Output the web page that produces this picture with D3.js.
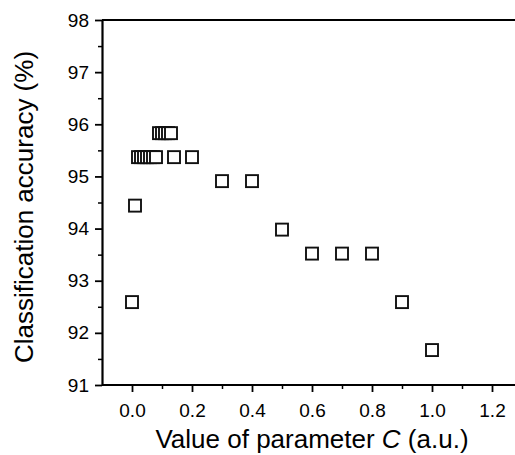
<!DOCTYPE html>
<html>
<head>
<meta charset="utf-8">
<script src="https://cdn.jsdelivr.net/npm/d3@7"></script>
<style>
  body { margin: 0; background: #fff; }
  svg { display: block; font-family: "Liberation Sans", Arial, sans-serif; }
</style>
</head>
<body>
<div id="chart"></div>
<script>
// values of parameter C and matching classification accuracy (%)
const cValues = [0.0, 0.01, 0.02, 0.03, 0.04, 0.05, 0.06, 0.07, 0.08,
                 0.09, 0.10, 0.11, 0.12, 0.13, 0.14, 0.2, 0.3, 0.4,
                 0.5, 0.6, 0.7, 0.8, 0.9, 1.0];
const accuracy = [92.59, 94.44, 95.37, 95.37, 95.37, 95.37, 95.37, 95.37, 95.37,
                  95.83, 95.83, 95.83, 95.83, 95.83, 95.37, 95.37, 94.91, 94.91,
                  93.98, 93.52, 93.52, 93.52, 92.59, 91.67];
const xTicks = [0.0, 0.2, 0.4, 0.6, 0.8, 1.0, 1.2];
const xMinorTicks = [0.1, 0.3, 0.5, 0.7, 0.9, 1.1];
const yTicks = [91, 92, 93, 94, 95, 96, 97, 98];
const yMinorTicks = [91.5, 92.5, 93.5, 94.5, 95.5, 96.5, 97.5];

(function() {
  const W = 515, H = 455;
  const left = 102, top = 20, bottom = 385;

  const x = d3.scaleLinear().domain([-0.1, 1.3]).range([left, left + 420]);
  const y = d3.scaleLinear().domain([91, 98]).range([bottom, top]);

  const svg = d3.select('#chart').append('svg')
    .attr('width', W)
    .attr('height', H);

  // minor ticks first
  svg.append('g')
    .attr('transform', `translate(0,${bottom})`)
    .call(d3.axisBottom(x).tickValues(xMinorTicks).tickSize(4).tickFormat(''))
    .call(g => g.select('.domain').remove())
    .selectAll('line').attr('stroke-width', 1.5);

  svg.append('g')
    .attr('transform', `translate(${left},0)`)
    .call(d3.axisLeft(y).tickValues(yMinorTicks).tickSize(4).tickFormat(''))
    .call(g => g.select('.domain').remove())
    .selectAll('line').attr('stroke-width', 1.5);

  // major ticks + labels
  const xAxis = svg.append('g')
    .attr('transform', `translate(0,${bottom})`)
    .call(d3.axisBottom(x).tickValues(xTicks).tickSize(7).tickSizeOuter(0)
      .tickPadding(12).tickFormat(d3.format('.1f')));

  const yAxis = svg.append('g')
    .attr('transform', `translate(${left},0)`)
    .call(d3.axisLeft(y).tickValues(yTicks).tickSize(7).tickSizeOuter(0)
      .tickPadding(6).tickFormat(d3.format('d')));

  [xAxis, yAxis].forEach(g => {
    g.selectAll('text').attr('font-size', 19).attr('font-family', null).attr('fill', '#000');
    g.selectAll('line').attr('stroke-width', 1.8);
    g.select('.domain').attr('stroke-width', 2.2);
  });
  xAxis.select('.domain').attr('d', `M${left},0H${W}`);

  // top frame line
  svg.append('line')
    .attr('x1', left).attr('x2', W)
    .attr('y1', top).attr('y2', top)
    .attr('stroke', '#000').attr('stroke-width', 2.2);

  // data squares
  const pts = cValues.map((c, i) => ({c: c, acc: accuracy[i]}));
  const s = 12;
  svg.append('g').selectAll('rect')
    .data(pts)
    .enter()
    .append('rect')
      .attr('x', d => x(d.c) - s / 2)
      .attr('y', d => y(d.acc) - s / 2)
      .attr('width', s)
      .attr('height', s)
      .attr('fill', '#fff')
      .attr('stroke', '#111')
      .attr('stroke-width', 1.9);

  // axis titles
  const xt = svg.append('text')
    .attr('x', x(0.6))
    .attr('y', 448)
    .attr('text-anchor', 'middle')
    .attr('font-size', 26);
  xt.append('tspan').text('Value of parameter ');
  xt.append('tspan').attr('font-style', 'italic').text('C');
  xt.append('tspan').text(' (a.u.)');

  svg.append('text')
    .attr('transform', 'translate(33,207) rotate(-90)')
    .attr('text-anchor', 'middle')
    .attr('font-size', 26)
    .text('Classification accuracy (%)');
})();
</script>
</body>
</html>
